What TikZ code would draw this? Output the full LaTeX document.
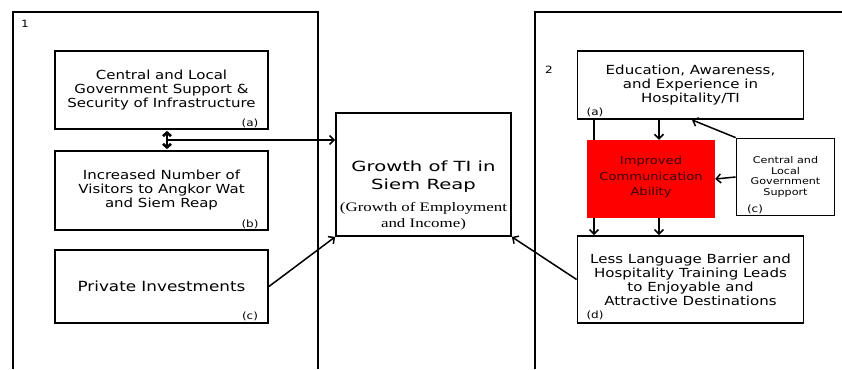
\documentclass[tikz,border=0pt]{standalone}
\usepackage{fontspec}
\setmainfont{DejaVu Sans}[FakeStretch=1.2]
\newfontfamily\titlefont{DejaVu Sans}[FakeStretch=1.4]
\newfontfamily\serifsub{Liberation Serif}[FakeStretch=1.3]
\usetikzlibrary{arrows.meta}
\definecolor{redtext}{HTML}{3A0000}
\begin{document}
\begin{tikzpicture}[x=1pt,y=-1pt,
  box/.style={draw, line width=1.8pt, inner sep=0pt, align=center, font=\fontsize{12.5}{14}\selectfont},
  tag/.style={font=\fontsize{10}{11}\selectfont, inner sep=0pt},
  arr/.style={line width=1.5pt, -{Straight Barb[length=4.5pt,width=9pt,line width=1.5pt]}},
  frame/.style={line width=1.8pt}]
\useasboundingbox (0,0) rectangle (842,369);
% frames
\draw[frame] (13,369) -- (13,12) -- (318,12) -- (318,369);
\draw[frame] (535,369) -- (535,12) -- (842,12);
\node[tag] (n1) at (25,24) {1};
\node[tag] (n2) at (549,70) {2};
% left boxes
\node[box, minimum width=213pt, minimum height=78pt] (a1) at (161.5,90) {Central and Local\\Government Support \&\\Security of Infrastructure};
\node[box, minimum width=213pt, minimum height=79pt] (b1) at (161.5,190.5) {Increased Number of\\Visitors to Angkor Wat\\and Siem Reap};
\node[box, minimum width=213pt, minimum height=73pt, font=\fontsize{14}{16}\selectfont] (c1) at (161.5,286.5) {Private Investments};
\node[tag] (ta1) at (250,123) {(a)};
\node[tag] (tb1) at (250,224) {(b)};
\node[tag] (tc1) at (250,316) {(c)};
% centre
\node[box, minimum width=175pt, minimum height=123pt] (g) at (423.5,174.5) {};
\node[font=\titlefont\fontsize{14}{18}\selectfont, align=center, inner sep=0pt] (gt) at (423.5,177) {Growth of TI in\\Siem Reap};
\node[font=\serifsub\fontsize{13}{16}\selectfont, align=center, inner sep=0pt] (gs) at (423.5,216) {(Growth of Employment\\and Income)};
% right boxes
\node[box, minimum width=226pt, minimum height=68pt] (a2) at (690.5,85) {Education, Awareness,\\and Experience in\\Hospitality/TI};
\node[box, minimum width=226pt, minimum height=87pt] (d2) at (690.5,279.5) {Less Language Barrier and\\Hospitality Training Leads\\to Enjoyable and\\Attractive Destinations};
\node[box, minimum width=98pt, minimum height=77pt, font=\fontsize{9.3}{10.5}\selectfont] (c2) at (785.5,177) {Central and\\Local\\Government\\Support};
\node[tag] (ta2) at (595,112) {(a)};
\node[tag] (td2) at (595,315) {(d)};
\node[tag] (tc2) at (755,209) {(c)};
% left arrows
\coordinate (m) at (167,140);
\draw[line width=2.6pt, shorten <=1pt, shorten >=1pt, {Straight Barb[length=3.5pt,width=8pt]}-{Straight Barb[length=3.5pt,width=8pt]}] (m |- a1.south) -- (m |- b1.north);
\draw[arr] (m) -- (m -| g.west);
\draw[arr] (c1.east) -- (g.south west);
\draw[arr] (d2.west) -- (g.south east);
% right arrows
\coordinate (lx) at (594,0);
\coordinate (vx) at (659,0);
\coordinate (ax) at (692,0);
\draw[arr] (lx |- a2.south) -- (lx |- d2.north);
\node[fill=red, draw=none, inner sep=0pt, minimum width=128pt, minimum height=78pt] (red) at (651,179) {};
\node[text=redtext, align=center, inner sep=0pt, font=\fontsize{10.9}{15.5}\selectfont] (redt) at (651,177) {Improved\\Communication\\Ability};
\draw[arr] (vx |- a2.south) -- (vx |- red.north);
\draw[arr] (vx |- red.south) -- (vx |- d2.north);
\draw[arr] (c2.north west) -- (ax |- a2.south);
\draw[arr] (c2.west) -- (red.east);
\end{tikzpicture}
\end{document}
